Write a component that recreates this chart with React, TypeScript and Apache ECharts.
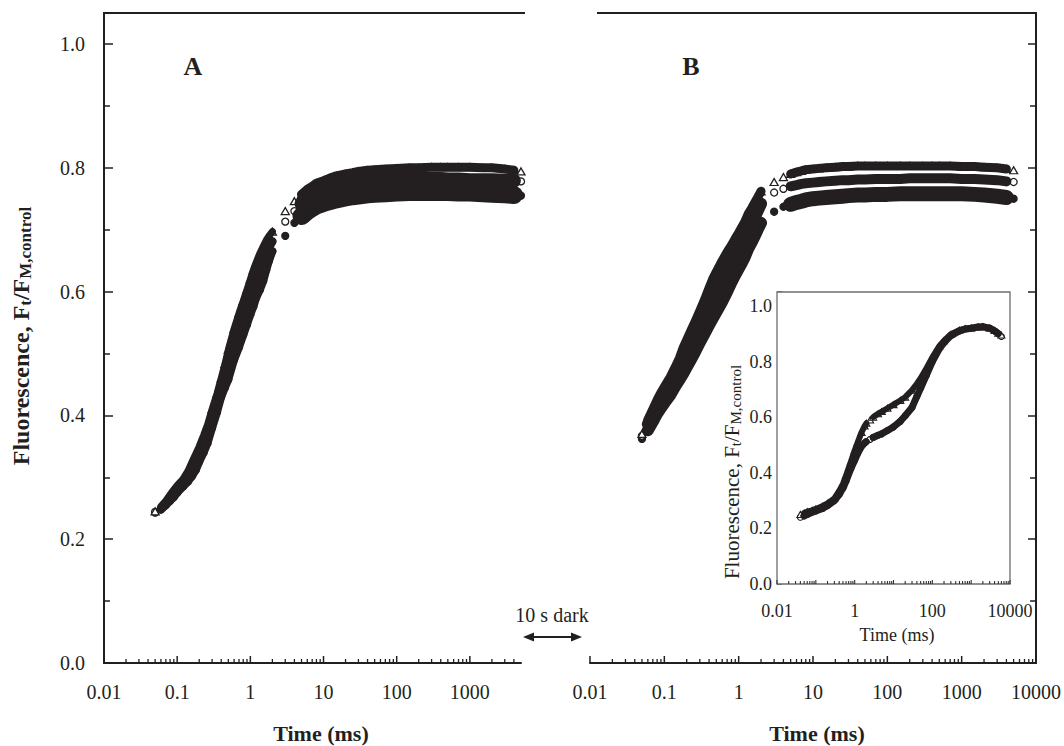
import React, { useEffect, useRef } from 'react';
import * as echarts from 'echarts';

const FONT = '"Liberation Serif", "Times New Roman", serif';
const INK = '#231f20';

// ---- time bases (ms) ----
const tRise = [0.05, 0.06, 0.07, 0.08, 0.09, 0.1, 0.12, 0.14, 0.16, 0.18, 0.2, 0.23, 0.26, 0.3, 0.35, 0.4, 0.45, 0.5, 0.6, 0.7, 0.8, 0.9, 1.0, 1.1, 1.2, 1.35, 1.5, 1.65, 1.8, 2.0];
const tPlat = [3, 4, 5, 6, 7, 8, 10, 12, 15, 20, 25, 30, 40, 50, 70, 100, 150, 200, 300, 400, 500, 700, 1000, 1500, 2000, 3000, 4000, 5000];

// ---- panel A ----
const aTriRise = [0.245, 0.253, 0.262, 0.272, 0.28, 0.287, 0.297, 0.31, 0.325, 0.338, 0.35, 0.368, 0.385, 0.41, 0.435, 0.46, 0.483, 0.506, 0.54, 0.565, 0.585, 0.603, 0.62, 0.635, 0.647, 0.662, 0.673, 0.683, 0.69, 0.697];
const aCirRise = [0.244, 0.25, 0.258, 0.267, 0.274, 0.281, 0.291, 0.301, 0.313, 0.325, 0.337, 0.354, 0.37, 0.395, 0.42, 0.445, 0.464, 0.482, 0.515, 0.538, 0.558, 0.575, 0.592, 0.606, 0.619, 0.633, 0.645, 0.659, 0.67, 0.681];
const aDotRise = [0.243, 0.248, 0.255, 0.262, 0.268, 0.275, 0.285, 0.293, 0.302, 0.312, 0.325, 0.34, 0.355, 0.38, 0.405, 0.43, 0.445, 0.458, 0.49, 0.51, 0.53, 0.547, 0.563, 0.576, 0.59, 0.603, 0.617, 0.635, 0.65, 0.665];
const aTriPlat = [0.73, 0.746, 0.757, 0.765, 0.77, 0.775, 0.779, 0.783, 0.787, 0.79, 0.792, 0.794, 0.796, 0.797, 0.798, 0.799, 0.8, 0.8, 0.801, 0.801, 0.801, 0.801, 0.801, 0.8, 0.8, 0.798, 0.796, 0.794];
const aCirPlat = [0.713, 0.73, 0.742, 0.75, 0.756, 0.76, 0.765, 0.769, 0.773, 0.776, 0.778, 0.779, 0.78, 0.781, 0.782, 0.782, 0.782, 0.782, 0.782, 0.782, 0.781, 0.781, 0.78, 0.78, 0.78, 0.779, 0.779, 0.778];
const aDotPlat = [0.69, 0.711, 0.722, 0.73, 0.735, 0.739, 0.743, 0.746, 0.749, 0.752, 0.754, 0.755, 0.757, 0.758, 0.759, 0.76, 0.761, 0.761, 0.761, 0.761, 0.761, 0.76, 0.76, 0.759, 0.758, 0.757, 0.756, 0.755];

// ---- panel B ----
const bTriRise = [0.37, 0.393, 0.41, 0.425, 0.437, 0.446, 0.462, 0.478, 0.493, 0.51, 0.522, 0.538, 0.552, 0.569, 0.588, 0.606, 0.621, 0.632, 0.65, 0.664, 0.675, 0.686, 0.695, 0.704, 0.712, 0.726, 0.735, 0.744, 0.752, 0.762];
const bCirRise = [0.367, 0.386, 0.401, 0.415, 0.426, 0.434, 0.449, 0.464, 0.477, 0.491, 0.502, 0.517, 0.53, 0.546, 0.563, 0.578, 0.592, 0.602, 0.62, 0.634, 0.647, 0.658, 0.668, 0.677, 0.686, 0.7, 0.71, 0.72, 0.73, 0.742];
const bDotRise = [0.362, 0.376, 0.39, 0.403, 0.412, 0.42, 0.433, 0.447, 0.458, 0.468, 0.478, 0.491, 0.503, 0.518, 0.533, 0.546, 0.557, 0.567, 0.584, 0.6, 0.615, 0.627, 0.637, 0.646, 0.655, 0.67, 0.68, 0.69, 0.7, 0.711];
const bTriPlat = [0.777, 0.785, 0.79, 0.793, 0.795, 0.797, 0.798, 0.799, 0.8, 0.801, 0.802, 0.802, 0.803, 0.803, 0.803, 0.803, 0.803, 0.803, 0.803, 0.803, 0.803, 0.803, 0.802, 0.802, 0.801, 0.8, 0.798, 0.796];
const bCirPlat = [0.76, 0.766, 0.77, 0.772, 0.774, 0.775, 0.776, 0.777, 0.778, 0.779, 0.78, 0.78, 0.781, 0.781, 0.782, 0.782, 0.782, 0.783, 0.783, 0.783, 0.783, 0.783, 0.782, 0.782, 0.781, 0.78, 0.778, 0.777];
const bDotPlat = [0.729, 0.737, 0.741, 0.744, 0.746, 0.748, 0.75, 0.751, 0.752, 0.753, 0.754, 0.755, 0.756, 0.756, 0.757, 0.757, 0.758, 0.758, 0.758, 0.758, 0.758, 0.758, 0.758, 0.757, 0.756, 0.754, 0.752, 0.75];

// ---- inset ----
const iRise = [0.04, 0.05, 0.06, 0.08, 0.1, 0.15, 0.2, 0.3, 0.4, 0.5, 0.6, 0.8, 1.0, 1.2, 1.5, 1.8, 2.0];
const iPlat = [2.5, 3, 4, 5, 7, 10, 15, 20, 30, 40, 50, 70, 100, 150, 200, 300, 500, 700, 1000, 1500, 2000, 3000, 4000, 5000, 6000];
const iTriRise = [0.25, 0.255, 0.26, 0.265, 0.27, 0.28, 0.29, 0.308, 0.335, 0.36, 0.39, 0.44, 0.48, 0.51, 0.545, 0.568, 0.578];
const iCirRise = [0.24, 0.245, 0.25, 0.258, 0.263, 0.272, 0.282, 0.3, 0.322, 0.345, 0.37, 0.415, 0.445, 0.47, 0.495, 0.507, 0.512];
const iTriPlat = [0.59, 0.6, 0.612, 0.62, 0.632, 0.645, 0.66, 0.672, 0.697, 0.72, 0.74, 0.775, 0.815, 0.855, 0.875, 0.898, 0.913, 0.918, 0.92, 0.924, 0.925, 0.92, 0.912, 0.902, 0.895];
const iCirPlat = [0.52, 0.527, 0.535, 0.54, 0.552, 0.565, 0.585, 0.605, 0.635, 0.675, 0.705, 0.75, 0.8, 0.845, 0.868, 0.893, 0.91, 0.917, 0.92, 0.924, 0.925, 0.92, 0.91, 0.9, 0.89];

// ---- ticks / labels ----
const decadeLabels = ['0.01', '0.1', '1', '10', '100', '1000', '10000'];
const decades = [0.01, 0.1, 1, 10, 100, 1000];
const minorMult = [2, 3, 4, 5, 6, 7, 8, 9];
const majorA = [0.01, 0.1, 1, 10, 100, 1000];
const majorB = [0.01, 0.1, 1, 10, 100, 1000, 10000];
const maxA = 5000;
const maxB = 10000;

const pts = (t: number[], v: number[]) => t.map((x, i) => [x, v[i]]);
const minorList = (max: number) => {
  const out: number[] = [];
  decades.forEach((d) => minorMult.forEach((m) => { const v = d * m; if (v < max * 0.999) out.push(v); }));
  return out;
};

const decadeFormatter = (every: number) => (v: number) => {
  const e = Math.log10(v);
  const r = Math.round(e);
  if (Math.abs(e - r) > 0.01) return '';
  if ((r + 2) % every !== 0) return '';
  return decadeLabels[r + 2] ?? '';
};
const yFormatter = (v: number) => {
  const k = v * 5;
  if (Math.abs(k - Math.round(k)) > 1e-6) return '';
  return v.toFixed(1);
};

function tickSeries(xi: number, yi: number, ticks: number[], len: number, w: number, color = INK) {
  return {
    type: 'custom',
    xAxisIndex: xi,
    yAxisIndex: yi,
    clip: false,
    silent: true,
    z: 6,
    data: ticks.map((t) => [t, 0]),
    renderItem: (_p: any, api: any) => {
      const p = api.coord([api.value(0), api.value(1)]);
      return {
        type: 'line',
        shape: { x1: p[0], y1: p[1], x2: p[0], y2: p[1] - len },
        style: { stroke: color, lineWidth: w },
      };
    },
  };
}

function dataSeries(
  xi: number, yi: number,
  tR: number[], vR: number[], tP: number[], vP: number[],
  symbol: string, size: any, filled: boolean, wR: number, wP: number, pStart: number, bw = 1.3,
) {
  return [
    {
      type: 'scatter', xAxisIndex: xi, yAxisIndex: yi, silent: true, z: 2,
      data: [...pts(tR, vR), ...pts(tP, vP)],
      symbol, symbolSize: size,
      itemStyle: { color: filled ? INK : '#ffffff', borderColor: INK, borderWidth: bw, opacity: 1 },
    },
    {
      type: 'line', xAxisIndex: xi, yAxisIndex: yi, silent: true, z: 3,
      data: pts(tR, vR).slice(1), showSymbol: false, symbol: 'none',
      lineStyle: { color: INK, width: wR, cap: 'round', join: 'round' },
    },
    {
      type: 'line', xAxisIndex: xi, yAxisIndex: yi, silent: true, z: 3,
      data: pts(tP, vP).slice(pStart, -1), showSymbol: false, symbol: 'none',
      lineStyle: { color: INK, width: wP, cap: 'round', join: 'round' },
    },
  ];
}

const axisLineStyle = { color: INK, width: 2 };

function bottomLog(grid: number, max: number, every: number, fontSize: number, margin: number, showLine = true) {
  return {
    gridIndex: grid, type: 'log', logBase: 10, min: 0.01, max, position: 'bottom',
    axisLine: { show: showLine, onZero: false, lineStyle: axisLineStyle },
    axisTick: { show: false }, minorTick: { show: false }, splitLine: { show: false }, minorSplitLine: { show: false },
    axisLabel: { margin, fontFamily: FONT, fontSize, color: INK, formatter: decadeFormatter(every), showMaxLabel: max !== maxA, showMinLabel: true },
  };
}
function yVal(grid: number, position: string, labels: boolean, major: number, minor: number, fontSize: number, margin: number, showLine: boolean, tickColor = INK) {
  return {
    gridIndex: grid, type: 'value', min: 0, max: 1.05, interval: 0.2, position,
    axisLine: { show: showLine, onZero: false, lineStyle: axisLineStyle },
    axisTick: { show: true, inside: true, length: major, lineStyle: { color: tickColor, width: 1.5 } },
    minorTick: { show: true, splitNumber: 2, length: minor, lineStyle: { color: tickColor, width: 1.5 } },
    splitLine: { show: false }, minorSplitLine: { show: false },
    axisLabel: { show: labels, margin, fontFamily: FONT, fontSize, color: INK, formatter: yFormatter, showMaxLabel: false },
  };
}

export default function App() {
  const ref = useRef<HTMLDivElement>(null);
  useEffect(() => {
    if (!ref.current) return;
    const chart = echarts.init(ref.current, undefined, { renderer: 'svg' });
    const triSize = [8, 7];
    const cirSize = 7;
    const option: any = {
      animation: false,
      backgroundColor: '#ffffff',
      grid: [
        { left: 104, top: 13, width: 417, height: 650 },
        { left: 590, top: 13, width: 446, height: 650 },
        { left: 777, top: 292, width: 233, height: 292, show: true, borderColor: '#6d6d6d', borderWidth: 1.3, backgroundColor: '#ffffff', z: 1 },
      ],
      xAxis: [
        bottomLog(0, maxA, 1, 20, 19),
        bottomLog(1, maxB, 1, 20, 19),
        bottomLog(2, maxB, 2, 18, 18, false),
      ],
      yAxis: [
        yVal(0, 'left', true, 9, 6, 20, 19, true),
        yVal(1, 'right', false, 8, 6, 20, 19, true),
        yVal(2, 'left', true, 5, 3, 18, 5, false, '#333'),
      ],
      series: [
        // panel A
        ...dataSeries(0, 0, tRise, aDotRise, tPlat, aDotPlat, 'circle', cirSize, true, 8, 18, 2),
        ...dataSeries(0, 0, tRise, aCirRise, tPlat, aCirPlat, 'circle', cirSize, false, 8, 14, 2),
        ...dataSeries(0, 0, tRise, aTriRise, tPlat, aTriPlat, 'triangle', triSize, false, 7, 9, 2),
        // panel B
        ...dataSeries(1, 1, tRise, bDotRise, tPlat, bDotPlat, 'circle', cirSize, true, 12, 15, 2),
        ...dataSeries(1, 1, tRise, bCirRise, tPlat, bCirPlat, 'circle', cirSize, false, 12, 10, 2),
        ...dataSeries(1, 1, tRise, bTriRise, tPlat, bTriPlat, 'triangle', triSize, false, 9, 9, 2),
        // inset
        ...dataSeries(2, 2, iRise, iCirRise, iPlat, iCirPlat, 'circle', 6, false, 7, 7, 1, 1.1),
        ...dataSeries(2, 2, iRise, iTriRise, iPlat, iTriPlat, 'triangle', [7, 6], false, 6, 6, 1, 1.1),
        // ticks
        tickSeries(0, 0, majorA, 7, 1.5),
        tickSeries(0, 0, minorList(maxA), 4, 1.3),
        tickSeries(1, 1, majorB, 7, 1.5),
        tickSeries(1, 1, minorList(maxB), 4, 1.3),
        tickSeries(2, 2, majorB, 4, 1.1, '#333'),
        tickSeries(2, 2, minorList(maxB), 3, 1.1, '#333'),
      ],
      graphic: [
        { type: 'line', shape: { x1: 103, y1: 13, x2: 525, y2: 13 }, style: { stroke: INK, lineWidth: 2 } },
        { type: 'line', shape: { x1: 597, y1: 13, x2: 1037, y2: 13 }, style: { stroke: INK, lineWidth: 2 } },
        { type: 'text', x: 193, y: 66, style: { text: 'A', font: `bold 26px ${FONT}`, fill: INK, align: 'center', verticalAlign: 'middle' } },
        { type: 'text', x: 691, y: 66, style: { text: 'B', font: `bold 26px ${FONT}`, fill: INK, align: 'center', verticalAlign: 'middle' } },
        { type: 'text', x: 321, y: 733, style: { text: 'Time (ms)', font: `bold 22px ${FONT}`, fill: INK, align: 'center', verticalAlign: 'middle' } },
        { type: 'text', x: 817, y: 733, style: { text: 'Time (ms)', font: `bold 22px ${FONT}`, fill: INK, align: 'center', verticalAlign: 'middle' } },
        { type: 'text', x: 897, y: 635, style: { text: 'Time (ms)', font: `18px ${FONT}`, fill: INK, align: 'center', verticalAlign: 'middle' } },
        { type: 'text', x: 552, y: 615, style: { text: '10 s dark', font: `20px ${FONT}`, fill: INK, align: 'center', verticalAlign: 'middle' } },
        { type: 'line', shape: { x1: 530, y1: 637, x2: 575, y2: 637 }, style: { stroke: INK, lineWidth: 2 } },
        { type: 'polygon', shape: { points: [[523, 637], [534, 632.5], [534, 641.5]] }, style: { fill: INK } },
        { type: 'polygon', shape: { points: [[582, 637], [571, 632.5], [571, 641.5]] }, style: { fill: INK } },
        {
          type: 'text', x: 21, y: 336, rotation: Math.PI / 2,
          style: {
            text: '{a|Fluorescence, F}{b|t}{a|/F}{b|M,control}',
            align: 'center', verticalAlign: 'middle', fill: INK,
            rich: {
              a: { fontFamily: FONT, fontWeight: 'bold', fontSize: 24, lineHeight: 26, fill: INK },
              b: { fontFamily: FONT, fontWeight: 'bold', fontSize: 17, lineHeight: 26, verticalAlign: 'bottom', fill: INK },
            },
          },
        },
        {
          type: 'text', x: 732, y: 472, rotation: Math.PI / 2,
          style: {
            text: '{a|Fluorescence, F}{b|t}{a|/F}{b|M,control}',
            align: 'center', verticalAlign: 'middle', fill: INK,
            rich: {
              a: { fontFamily: FONT, fontSize: 21, lineHeight: 22, fill: INK },
              b: { fontFamily: FONT, fontSize: 15, lineHeight: 22, verticalAlign: 'bottom', fill: INK },
            },
          },
        },
      ],
    };
    chart.setOption(option);
    return () => chart.dispose();
  }, []);
  return <div ref={ref} style={{ position: 'fixed', left: 0, top: 0, width: 1064, height: 746, background: '#fff' }} />;
}
